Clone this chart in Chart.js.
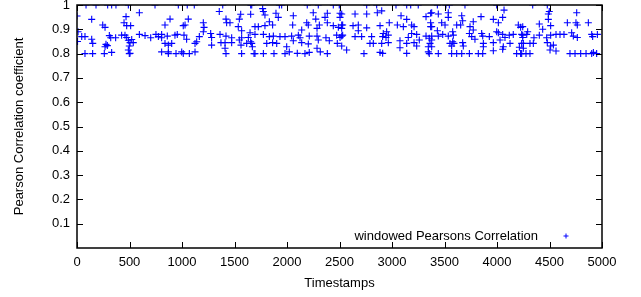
<!DOCTYPE html>
<html>
<head>
<meta charset="utf-8">
<script src="https://cdn.jsdelivr.net/npm/chart.js@4/dist/chart.umd.min.js"></script>
<style>
  html, body { margin: 0; padding: 0; background: #fff; }
  #wrap { width: 641px; height: 297px; }
</style>
</head>
<body>
<div id="wrap"><canvas id="chart" width="641" height="297"></canvas></div>
<script>
// --- Data (timestamp, windowed correlation) ---
const timestamps = [
  0, 10, 5, 86, 181, 292, 330, 371, 489, 743,
  140, 245, 267, 467, 594, 448, 473, 511, 45, 76, 140, 150, 308, 321, 368, 425, 457, 473, 489, 521,
  505, 536, 276, 289, 267, 594, 648, 702, 752, 775, 806, 498, 489, 505, 330, 76, 149, 260, 498, 806,
  965, 1050, 1117, 1388, 1654,
  1355, 1419, 1457, 1425, 1546, 1559, 1536, 1568, 1654, 886, 838, 1012, 1029, 1060, 1203, 1210, 1203,
  806, 860, 933, 955, 1019, 1044, 1165, 1273, 1282, 1362, 1419, 1473, 1568, 1546, 1632, 1648, 1654,
  838, 870, 902, 1124, 1140, 1282, 1371, 1410, 1473, 1562, 1616, 1664, 1670, 1410, 870, 997, 1124,
  870, 943, 1012, 1070, 1419, 1568, 1686,
  1664, 1768, 1927, 1949, 2193, 2298, 2441, 2498,
  1775, 1790, 1895, 1917, 2060, 2250, 2384, 2362, 2505, 2505, 2274, 1832, 1863, 1790, 1695, 1727,
  2054, 2188, 2203, 2308, 2384, 2441, 2489, 2530, 2140, 2286, 1695, 1775, 1832, 1870, 1933, 1981,
  2044, 2108, 2124, 2212, 2286, 2371, 2473, 2505, 2530, 1807, 1863, 1902, 2060, 2140, 2203, 2298,
  2403, 2479, 2521, 1997, 2286, 2317, 2212, 2022, 1695, 1775, 1876, 1981, 2098, 2171, 2384,
  2759, 2854, 3038, 3140, 3178, 3250,
  2521, 2648, 2759, 2860, 2902, 3086, 3140, 3324, 3368, 2974, 3051, 3108, 3187, 3210, 3368, 3368,
  2521, 2521, 2629, 2679, 2759, 2886, 2679, 2917, 2949, 2965, 2521, 2648, 2711, 2806, 2911, 2943,
  3187, 3235, 3155, 3324, 3355, 2568, 2790, 2822, 2902, 2965, 3076, 3140, 3210, 3260, 3235, 3362,
  3346, 3076, 3140, 2886, 2911, 3346, 3355, 2733,
  3432, 3514, 3546, 3695, 3997,
  3378, 3441, 3536, 3536, 3664, 3848, 3965, 4054, 4067, 4013, 3774, 3673, 3473, 3505, 3616, 3654,
  3743, 3378, 3432, 3774, 3997, 4203, 4225, 3378, 3441, 3483, 3536, 3578, 3584, 3737, 3759, 3854,
  3864, 3927, 4013, 4054, 4076, 4117, 4155, 4235, 4245, 3378, 3578, 3673, 3790, 4029, 4124, 3378,
  3552, 3568, 3590, 3679, 3870, 3870, 3965, 4060, 4235, 4054, 3965, 4213,
  3441, 3568, 3616, 3664, 3737, 3822, 3864, 4187, 4225,
  4340, 4479,
  4498, 4489, 4759, 4489, 4670, 4752, 4765, 4870, 4403, 4511, 4435, 4245, 4292, 4283, 4245, 4352,
  4403, 4473, 4511, 4562, 4600, 4638, 4711, 4727, 4765, 4902, 4956, 4911, 4251, 4314, 4346, 4479,
  4511, 4537, 4251, 4505, 4562, 4235, 4276, 4314, 4695, 4743, 4797, 4848, 4902, 4918, 4949
];
const correlation = [
  0.955, 0.89, 0.85, 1, 1, 1, 1, 1, 1, 1,
  0.941, 0.918, 0.908, 0.952, 0.968, 0.927, 0.915, 0.915, 0.87, 0.87, 0.859, 0.842, 0.874, 0.865, 0.865, 0.876, 0.876, 0.866, 0.855, 0.858,
  0.845, 0.845, 0.838, 0.833, 0.828, 0.879, 0.874, 0.865, 0.879, 0.87, 0.865, 0.831, 0.815, 0.801, 0.805, 0.8, 0.8, 0.8, 0.8, 0.807,
  1, 1, 1, 1, 1,
  0.973, 0.942, 0.927, 0.927, 0.942, 0.962, 0.911, 0.894, 0.962, 0.942, 0.918, 0.915, 0.918, 0.942, 0.927, 0.908, 0.89,
  0.879, 0.872, 0.876, 0.879, 0.876, 0.859, 0.87, 0.883, 0.866, 0.879, 0.872, 0.865, 0.865, 0.856, 0.866, 0.886, 0.849,
  0.842, 0.835, 0.842, 0.842, 0.849, 0.835, 0.845, 0.845, 0.845, 0.835, 0.842, 0.842, 0.828, 0.822, 0.807, 0.807, 0.807,
  0.8, 0.8, 0.8, 0.8, 0.8, 0.8, 0.8,
  1, 0.985, 1, 1, 1, 1, 1, 1,
  0.973, 0.959, 0.966, 0.949, 0.956, 0.968, 0.966, 0.949, 0.966, 0.949, 0.942, 0.931, 0.918, 0.915, 0.911, 0.911,
  0.918, 0.927, 0.918, 0.918, 0.927, 0.915, 0.908, 0.918, 0.897, 0.904, 0.879, 0.879, 0.87, 0.872, 0.87, 0.87,
  0.872, 0.876, 0.865, 0.872, 0.872, 0.865, 0.876, 0.866, 0.876, 0.842, 0.845, 0.842, 0.853, 0.845, 0.84, 0.856,
  0.853, 0.842, 0.831, 0.828, 0.822, 0.807, 0.805, 0.807, 0.8, 0.8, 0.8, 0.8, 0.801, 0.8, 0.8,
  1, 1, 1, 1, 1, 1,
  0.963, 0.963, 0.963, 0.968, 0.976, 0.956, 0.941, 0.952, 0.966, 0.927, 0.918, 0.911, 0.918, 0.911, 0.927, 0.911,
  0.918, 0.904, 0.915, 0.918, 0.906, 0.915, 0.894, 0.883, 0.89, 0.876, 0.872, 0.87, 0.87, 0.87, 0.87, 0.866,
  0.883, 0.879, 0.866, 0.872, 0.863, 0.815, 0.842, 0.842, 0.842, 0.845, 0.853, 0.842, 0.845, 0.856, 0.831, 0.842,
  0.828, 0.824, 0.801, 0.805, 0.801, 0.807, 0.8, 0.8,
  1, 1, 1, 1, 1,
  0.968, 0.963, 0.968, 0.949, 0.956, 0.952, 0.941, 0.949, 0.979, 0.927, 0.931, 0.935, 0.927, 0.918, 0.918, 0.918,
  0.911, 0.911, 0.894, 0.897, 0.89, 0.918, 0.908, 0.872, 0.872, 0.879, 0.872, 0.89, 0.876, 0.883, 0.87, 0.883,
  0.872, 0.87, 0.886, 0.879, 0.866, 0.876, 0.879, 0.879, 0.866, 0.856, 0.849, 0.845, 0.859, 0.856, 0.842, 0.828,
  0.842, 0.831, 0.842, 0.831, 0.842, 0.828, 0.845, 0.828, 0.842, 0.818, 0.812, 0.826,
  0.8, 0.8, 0.8, 0.8, 0.8, 0.8, 0.8, 0.8, 0.8,
  1, 1,
  0.973, 0.963, 0.968, 0.941, 0.927, 0.927, 0.918, 0.927, 0.922, 0.915, 0.9, 0.911, 0.89, 0.879, 0.876, 0.865,
  0.876, 0.865, 0.876, 0.879, 0.879, 0.879, 0.886, 0.872, 0.866, 0.879, 0.879, 0.87, 0.842, 0.842, 0.842, 0.845,
  0.831, 0.835, 0.822, 0.815, 0.811, 0.8, 0.8, 0.8, 0.8, 0.8, 0.8, 0.8, 0.8, 0.805, 0.8
];
const seriesLabel = "windowed Pearsons Correlation";
const xTicks = [0, 500, 1000, 1500, 2000, 2500, 3000, 3500, 4000, 4500, 5000];
const yTicks = [0.1, 0.2, 0.3, 0.4, 0.5, 0.6, 0.7, 0.8, 0.9, 1];

const FONT = "'Liberation Sans', Arial, sans-serif";
const BLUE = "rgb(0,0,255)";
const points = timestamps.map((t, i) => ({ x: t, y: correlation[i] }));

// --- gnuplot style frame: box border, inward ticks on all sides, legend inside ---
const framePlugin = {
  id: "frame",
  afterDatasetsDraw(chart) {
    const { ctx, chartArea: a, scales: { x, y } } = chart;
    ctx.save();
    ctx.strokeStyle = "#000";
    ctx.lineWidth = 1;
    ctx.beginPath();
    xTicks.forEach(v => {
      const px = Math.round(x.getPixelForValue(v)) + 0.5;
      ctx.moveTo(px, a.bottom); ctx.lineTo(px, a.bottom - 6);
      ctx.moveTo(px, a.top); ctx.lineTo(px, a.top + 6);
    });
    yTicks.forEach(v => {
      const py = Math.round(y.getPixelForValue(v)) + 0.5;
      ctx.moveTo(a.left, py); ctx.lineTo(a.left + 6, py);
      ctx.moveTo(a.right, py); ctx.lineTo(a.right - 6, py);
    });
    ctx.stroke();
    ctx.lineWidth = 1.5;
    ctx.strokeRect(a.left, a.top, a.right - a.left, a.bottom - a.top);

    // key
    ctx.fillStyle = "#000";
    ctx.font = "13px " + FONT;
    ctx.textAlign = "right";
    ctx.textBaseline = "middle";
    ctx.fillText(chart.data.datasets[0].label, a.right - 64, a.bottom - 12);
    ctx.strokeStyle = BLUE;
    ctx.lineWidth = 1;
    const kx = a.right - 36, ky = a.bottom - 12;
    ctx.beginPath();
    ctx.moveTo(kx - 2.5, ky); ctx.lineTo(kx + 2.5, ky);
    ctx.moveTo(kx, ky - 2.5); ctx.lineTo(kx, ky + 2.5);
    ctx.stroke();
    ctx.restore();
  }
};

new Chart(document.getElementById("chart"), {
  type: "scatter",
  data: {
    datasets: [{
      label: seriesLabel,
      data: points,
      pointStyle: "cross",
      pointRadius: 3.5,
      pointHoverRadius: 3.5,
      borderColor: BLUE,
      backgroundColor: BLUE,
      borderWidth: 1.1
    }]
  },
  options: {
    responsive: false,
    animation: false,
    layout: { padding: { top: 5, right: 39, left: 0, bottom: 0 } },
    plugins: { legend: { display: false }, tooltip: { enabled: false } },
    scales: {
      x: {
        type: "linear",
        min: 0, max: 5000,
        afterBuildTicks: s => { s.ticks = xTicks.map(v => ({ value: v })); },
        afterFit: s => { s.height = 49; s.paddingLeft = 0; s.paddingRight = 0; },
        grid: { display: false, drawTicks: false },
        border: { display: false },
        ticks: { color: "#000", font: { family: FONT, size: 13 }, padding: 7, maxRotation: 0, callback: v => String(v) },
        title: { display: true, text: "Timestamps", color: "#000", font: { family: FONT, size: 13 }, padding: { top: 0, bottom: 6 } }
      },
      y: {
        min: 0, max: 1,
        afterBuildTicks: s => { s.ticks = yTicks.map(v => ({ value: v })); },
        afterFit: s => { s.width = 77; s.paddingTop = 0; s.paddingBottom = 0; },
        grid: { display: false, drawTicks: false },
        border: { display: false },
        ticks: { color: "#000", font: { family: FONT, size: 13 }, padding: 7, callback: v => String(Math.round(v * 10) / 10) },
        title: { display: true, text: "Pearson Correlation coefficient", color: "#000", font: { family: FONT, size: 13 }, padding: { top: 12, bottom: 0 } }
      }
    }
  },
  plugins: [framePlugin]
});
</script>
</body>
</html>
